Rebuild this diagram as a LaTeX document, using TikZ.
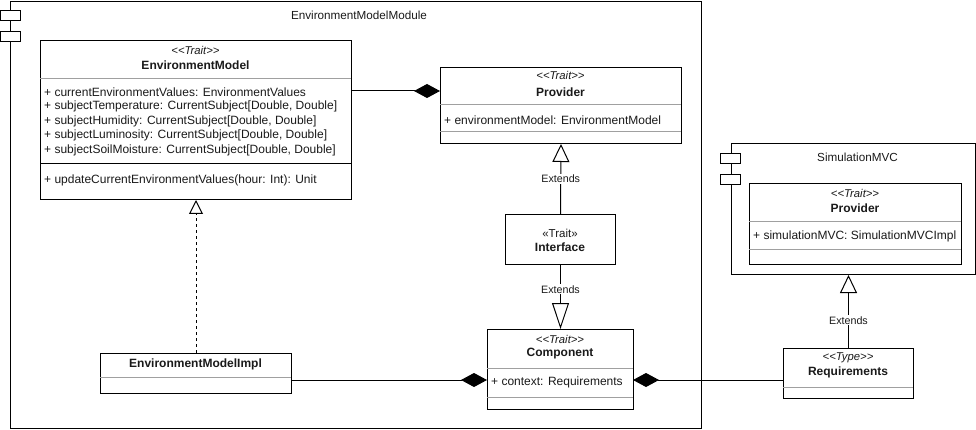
\documentclass[tikz,border=0pt]{standalone}
\usepackage{fontspec}
\setmainfont{Liberation Sans}
\usetikzlibrary{positioning,calc,arrows.meta}
\definecolor{sepgray}{HTML}{A0A0A0}
\definecolor{txt}{HTML}{1A1A1A}
\tikzset{
	classbox/.style={draw, line width=1pt, fill=white, anchor=north west, inner sep=0pt},
	pkgbox/.style={draw, line width=1pt, anchor=north west, inner sep=0pt},
	pkgicon/.style={draw, line width=1pt, fill=white, anchor=north west, inner sep=0pt, minimum width=20pt, minimum height=10pt},
	stereo/.style={text=txt, font=\fontsize{11.3}{12}\selectfont\itshape, inner sep=0pt},
	cname/.style={text=txt, font=\fontsize{12}{13}\selectfont\bfseries, inner sep=0pt},
	member/.style={text=txt, font=\fontsize{12}{13}\selectfont, anchor=west, inner sep=0pt},
	title/.style={text=txt, font=\fontsize{11.7}{13}\selectfont, inner sep=0pt},
	sep/.style={draw=sepgray, line width=1pt},
	lbl/.style={text=txt, font=\fontsize{10.7}{12}\selectfont, fill=white, inner sep=1pt},
	extends/.style={-{Triangle[open, length=#1, width=17pt]}, line width=1pt},
	realizes/.style={-{Triangle[open, length=14pt, width=14pt]}, line width=1pt, dash pattern=on 3pt off 3pt},
	composite/.style={-{Diamond[length=26pt, width=14pt]}, line width=1pt}
}

\begin{document}
\begin{tikzpicture}[x=1pt, y=-1pt]
	\useasboundingbox (0,0) rectangle (976,430);

	% module frames
	\node[pkgbox, minimum width=691pt, minimum height=427pt] (module) at (10,1) {};
	\node[pkgicon] (modIconA) at (0,10) {};
	\node[pkgicon] (modIconB) at (0,31) {};
	\node[title] (modTitle) at (359,15) {EnvironmentModelModule};

	\node[pkgbox, minimum width=244pt, minimum height=131pt] (simmvc) at (731,143) {};
	\node[pkgicon] (simIconA) at (720,153) {};
	\node[pkgicon] (simIconB) at (720,174) {};
	\node[title] (simTitle) at (857.5,157) {SimulationMVC};

	% EnvironmentModel
	\node[classbox, minimum width=311pt, minimum height=159pt] (envm) at (40,40) {};
	\node[stereo] (envmSt) at (195.5,50) {<{}<Trait>{}>};
	\node[cname] (envmName) at (195.5,65) {EnvironmentModel};
	\draw[sep] (40,79) -- (351,79);
	\node[member] (envmA1) at (44,92) {+ currentEnvironmentValues: EnvironmentValues};
	\node[member] (envmA2) at (44,106.5) {+ subjectTemperature: CurrentSubject[Double, Double]};
	\node[member] (envmA3) at (44,121) {+ subjectHumidity: CurrentSubject[Double, Double]};
	\node[member] (envmA4) at (44,135.5) {+ subjectLuminosity: CurrentSubject[Double, Double]};
	\node[member] (envmA5) at (44,150) {+ subjectSoilMoisture: CurrentSubject[Double, Double]};
	\draw[line width=1pt] (40,164) -- (351,164);
	\node[member] (envmM1) at (44,180) {+ updateCurrentEnvironmentValues(hour: Int): Unit};

	% Provider
	\node[classbox, minimum width=241pt, minimum height=76pt] (prov) at (440,67) {};
	\node[stereo] (provSt) at (560.5,75) {<{}<Trait>{}>};
	\node[cname] (provName) at (560.5,92) {Provider};
	\draw[sep] (440,105) -- (681,105);
	\node[member] (provA1) at (444,120) {+ environmentModel: EnvironmentModel};
	\draw[sep] (440,132) -- (681,132);
	\coordinate (provIn) at (440,91);

	% Interface
	\node[classbox, minimum width=110pt, minimum height=50pt] (iface) at (505,214) {};
	\node[text=txt, font=\fontsize{11.5}{13}\selectfont, inner sep=0pt] (ifaceSt) at (560,233) {«Trait»};
	\node[cname] (ifaceName) at (560,247) {Interface};

	% Component
	\node[classbox, minimum width=146pt, minimum height=80pt] (comp) at (487,329) {};
	\node[stereo] (compSt) at (560,339) {<{}<Trait>{}>};
	\node[cname] (compName) at (560,354) {Component};
	\draw[sep] (487,368) -- (633,368);
	\node[member] (compA1) at (491,382) {+ context: Requirements};
	\draw[sep] (487,397) -- (633,397);
	\coordinate (compL) at (487,380);
	\coordinate (compR) at (633,380);

	% EnvironmentModelImpl
	\node[classbox, minimum width=191pt, minimum height=40pt] (impl) at (100,353) {};
	\node[cname] (implName) at (195.5,364) {EnvironmentModelImpl};
	\draw[sep] (100,377) -- (291,377);

	% SimulationMVC Provider
	\node[classbox, minimum width=212pt, minimum height=81pt] (simprov) at (749,183) {};
	\node[stereo] (simprovSt) at (855,193) {<{}<Trait>{}>};
	\node[cname] (simprovName) at (855,208) {Provider};
	\draw[sep] (749,222) -- (961,222);
	\node[member] (simprovA1) at (753,236) {+ simulationMVC: SimulationMVCImpl};
	\draw[sep] (749,249) -- (961,249);

	% Requirements
	\node[classbox, minimum width=130pt, minimum height=50pt] (req) at (783,348) {};
	\node[stereo] (reqSt) at (848,358) {<{}<Type>{}>};
	\node[cname] (reqName) at (848,372) {Requirements};
	\draw[sep] (783,387) -- (913,387);

	% arrows
	\draw[composite] (envm.east |- provIn) -- (provIn);
	\draw[extends=18pt] (iface.north) -- node[lbl] {Extends} (prov.south);
	\draw[extends=26pt] (iface.south) -- node[lbl, pos=0.38] {Extends} (comp.north);
	\draw[realizes] (impl.north) -- (envm.south);
	\draw[composite] (impl.east |- compL) -- (compL);
	\draw[composite] (req.west |- compR) -- (compR);
	\draw[extends=18pt] (req.north) -- node[lbl, pos=0.38] {Extends} (req.north |- simmvc.south);
\end{tikzpicture}
\end{document}
